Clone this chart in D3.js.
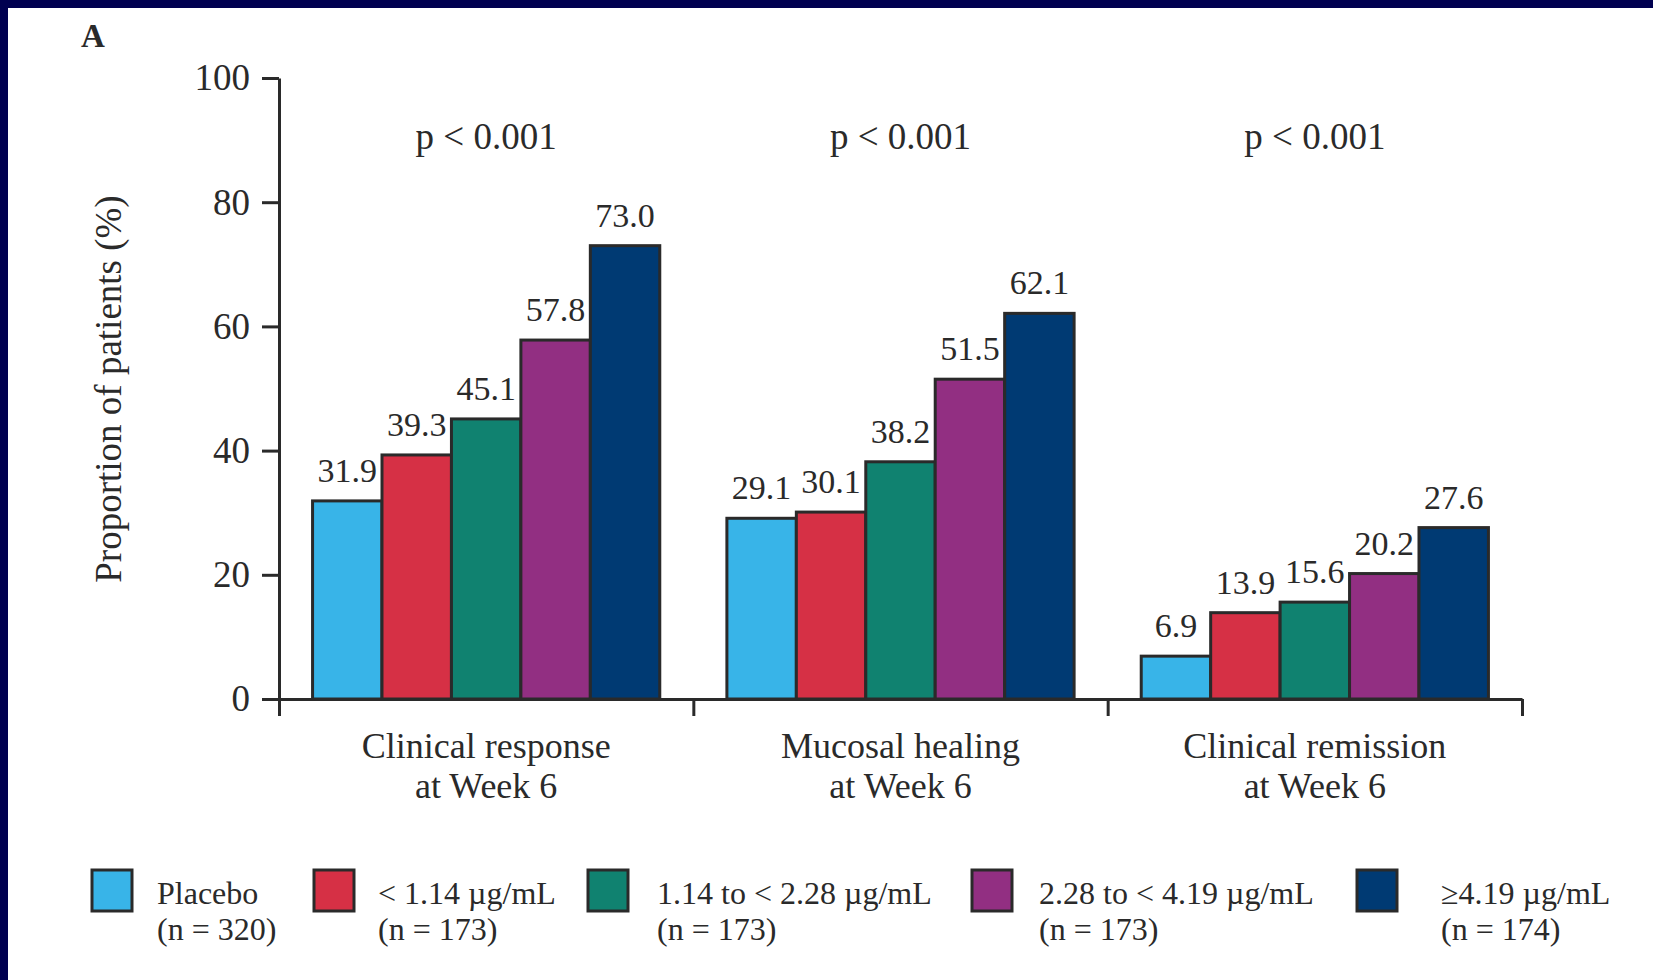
<html lang="en">
<head>
  <meta charset="UTF-8"/>
  <title>Proportion of patients by exposure quartile</title>
  <script src="https://d3js.org/d3.v7.min.js"></script>
</head>
<body>
  <div id='container'>
    <svg></svg>
  </div>
</body>
<style>
body {
  margin: 0;
  font-family: 'Liberation Serif', 'DejaVu Serif', serif;
}

div#container {
  width: 1653px;
  height: 980px;
  background-color: #fff;
  border-top: 8px solid #000050;
  border-left: 8px solid #000050;
  box-sizing: border-box;
}

svg {
  width: 1645px;
  height: 972px;
  display: block;
}

text {
  fill: #2a2a2a;
}

.axis path, .axis line {
  stroke: #2a2a2a;
  stroke-width: 3;
}

.axis text {
  font-size: 37px;
  font-family: 'Liberation Serif', serif;
  fill: #2a2a2a;
}

.bar {
  stroke: #2a2a2a;
  stroke-width: 3;
}

text.value {
  font-size: 34px;
}

text.pval {
  font-size: 37px;
}

text.cat {
  font-size: 36px;
}

text.ytitle {
  font-size: 37px;
}

text.panel {
  font-size: 33px;
  font-weight: bold;
}

text.legend {
  font-size: 32px;
}
</style>

<script>
    // data
    const categories = ['Clinical response|at Week 6', 'Mucosal healing|at Week 6', 'Clinical remission|at Week 6'];
    const groups = ['Placebo', '< 1.14 µg/mL', '1.14 to < 2.28 µg/mL', '2.28 to < 4.19 µg/mL', '≥4.19 µg/mL'];
    const groupN = ['(n = 320)', '(n = 173)', '(n = 173)', '(n = 173)', '(n = 174)'];
    const placebo = [31.9, 29.1, 6.9];
    const q1 = [39.3, 30.1, 13.9];
    const q2 = [45.1, 38.2, 15.6];
    const q3 = [57.8, 51.5, 20.2];
    const q4 = [73.0, 62.1, 27.6];
    const pValues = ['p < 0.001', 'p < 0.001', 'p < 0.001'];
    const yTicks = [0, 20, 40, 60, 80, 100];

    const colors = ['#38b4e8', '#d63045', '#108270', '#922f82', '#003a73'];
    const series = [placebo, q1, q2, q3, q4];

    // layout (svg is offset 8px by the frame)
    const plotLeft = 271, plotRight = 1514, plotTop = 70, plotBottom = 691;
    const legendX = [84, 306, 580, 964, 1349];
    const legendTextX = [65, 64, 69, 67, 84];

    const svg = d3.select('svg');

    const x0 = d3.scaleBand()
      .domain(categories)
      .range([plotLeft, plotRight])
      .paddingInner(0.162)
      .paddingOuter(0.081);

    const x1 = d3.scaleBand()
      .domain(d3.range(groups.length))
      .range([0, x0.bandwidth()])
      .padding(0);

    const y = d3.scaleLinear()
      .domain([0, 100])
      .range([plotBottom, plotTop]);

    // bars
    const cat = svg.selectAll('g.cat')
      .data(categories)
      .enter().append('g')
      .attr('transform', d => `translate(${x0(d)}, 0)`);

    cat.each(function(c, ci) {
      const g = d3.select(this);
      const vals = series.map((s, si) => ({ si, v: s[ci] }));
      g.selectAll('rect')
        .data(vals)
        .enter().append('rect')
        .attr('class', 'bar')
        .attr('x', d => x1(d.si))
        .attr('y', d => y(d.v))
        .attr('width', x1.bandwidth())
        .attr('height', d => y(0) - y(d.v))
        .attr('fill', d => colors[d.si]);

      g.selectAll('text.value')
        .data(vals)
        .enter().append('text')
        .attr('class', 'value')
        .attr('x', d => x1(d.si) + x1.bandwidth() / 2)
        .attr('y', d => y(d.v) - 19)
        .attr('text-anchor', 'middle')
        .text(d => d.v.toFixed(1));

      g.append('text')
        .attr('class', 'pval')
        .attr('x', x0.bandwidth() / 2)
        .attr('y', 141)
        .attr('text-anchor', 'middle')
        .text(pValues[ci]);
    });

    // y axis
    svg.append('g')
      .attr('class', 'axis')
      .attr('transform', `translate(${plotLeft}, 0)`)
      .call(d3.axisLeft(y).tickValues(yTicks).tickSize(17).tickPadding(12).tickSizeOuter(0));

    // x axis: ticks at category boundaries
    const xb = d3.scaleLinear().domain([0, categories.length]).range([plotLeft, plotRight]);
    svg.append('g')
      .attr('class', 'axis')
      .attr('transform', `translate(0, ${plotBottom})`)
      .call(d3.axisBottom(xb).tickValues(d3.range(categories.length + 1)).tickSize(17).tickFormat('').tickSizeOuter(0));

    // category labels
    categories.forEach(c => {
      const t = svg.append('text')
        .attr('class', 'cat')
        .attr('text-anchor', 'middle')
        .attr('x', x0(c) + x0.bandwidth() / 2)
        .attr('y', 750);
      c.split('|').forEach((line, i) => {
        t.append('tspan')
          .attr('x', x0(c) + x0.bandwidth() / 2)
          .attr('dy', i === 0 ? 0 : 40)
          .text(line);
      });
    });

    // y title
    svg.append('text')
      .attr('class', 'ytitle')
      .attr('text-anchor', 'middle')
      .attr('transform', `translate(113, 381) rotate(-90)`)
      .text('Proportion of patients (%)');

    // panel letter
    svg.append('text')
      .attr('class', 'panel')
      .attr('x', 73)
      .attr('y', 39)
      .text('A');

    // legend
    const leg = svg.selectAll('g.legend')
      .data(groups)
      .enter().append('g')
      .attr('transform', (d, i) => `translate(${legendX[i]}, 862)`);

    leg.append('rect')
      .attr('class', 'bar')
      .attr('width', 40)
      .attr('height', 41)
      .attr('fill', (d, i) => colors[i]);

    leg.append('text')
      .attr('class', 'legend')
      .attr('x', (d, i) => legendTextX[i])
      .attr('y', 34)
      .text(d => d);

    leg.append('text')
      .attr('class', 'legend')
      .attr('x', (d, i) => legendTextX[i])
      .attr('y', 70)
      .text((d, i) => groupN[i]);
</script>
</html>
